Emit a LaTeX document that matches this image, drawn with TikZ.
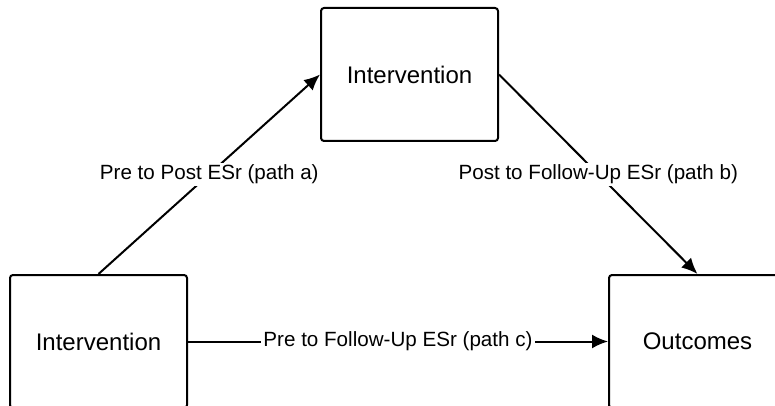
\documentclass[tikz,border=0pt]{standalone}
\usepackage{fontspec}
\setmainfont{Liberation Sans}
\usetikzlibrary{arrows.meta}
\tikzset{
  box/.style={draw, rectangle, rounded corners=1.5pt, line width=1pt,
    minimum width=88.5pt, minimum height=66.5pt, font=\fontsize{12}{14}\selectfont},
  esr/.style={fill=white, inner sep=1pt, font=\fontsize{10.3}{12}\selectfont},
  link/.style={line width=1pt, -{Latex[length=8pt,width=7pt]}}
}
\begin{document}
\begin{tikzpicture}[x=0.5pt, y=-0.5pt]
			\useasboundingbox (0,0) rectangle (775,406);
			\node [box] (pre)  at (98.5,341.5) {Intervention};
			\node [box] (post) at (409.5,74.5) {Intervention};
			\node [box] (out)  at (697.5,341.5) {Outcomes};

			\draw [link] (pre.north) -- node [esr] {Pre to Post ESr (path a)} (post.west);
			\draw [link] (post.east) -- node [esr] {Post to Follow-Up ESr (path b)} (out.north);
			\draw [link] (pre.east) -- node [esr] {Pre to Follow-Up ESr (path c)} (out.west);
		\end{tikzpicture}
\end{document}
